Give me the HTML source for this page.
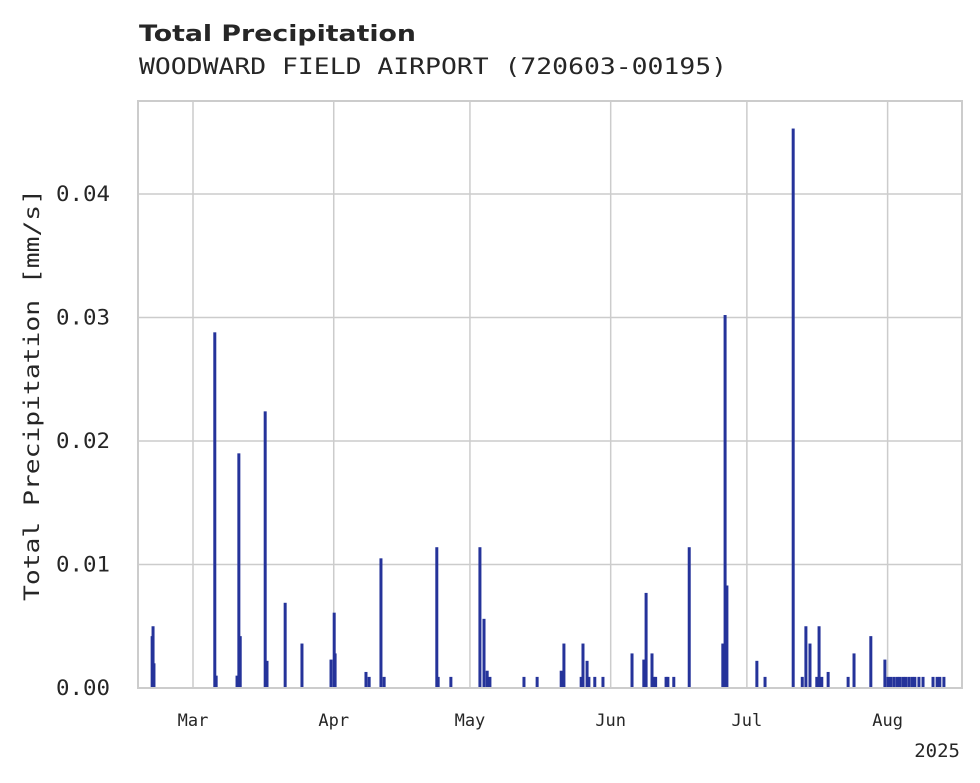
<!DOCTYPE html>
<html><head><meta charset="utf-8"><style>
body{margin:0;background:#fff}
svg{display:block}
</style></head><body>
<svg id="chart" width="980" height="783" viewBox="0 0 980 783" xmlns="http://www.w3.org/2000/svg">
<text x="139" y="41" font-family="DejaVu Sans, Liberation Sans, sans-serif" font-weight="bold" font-size="22" fill="#262626" textLength="277" lengthAdjust="spacingAndGlyphs">Total Precipitation</text>
<text x="139" y="74" font-family="DejaVu Sans Mono, Liberation Mono, monospace" font-size="22" fill="#262626" textLength="588" lengthAdjust="spacingAndGlyphs">WOODWARD FIELD AIRPORT (720603-00195)</text>
<g id="grid"></g>
<g id="bars"></g>
<rect x="138" y="101" width="824" height="587" fill="none" stroke="#cccccc" stroke-width="2"/>
<g id="axes"></g>
<text transform="translate(39,395) rotate(-90)" text-anchor="middle" font-family="DejaVu Sans Mono, Liberation Mono, monospace" font-size="21" fill="#262626" textLength="412" lengthAdjust="spacingAndGlyphs">Total Precipitation [mm/s]</text>
<text x="960" y="757" text-anchor="end" font-family="DejaVu Sans Mono, Liberation Mono, monospace" font-size="19" fill="#262626">2025</text>
</svg>
<script>
// day offsets from Mar 1, 2025
const days = [-9.0,-8.8,-8.6,4.8,5.1,9.7,10.1,10.4,15.9,16.3,20.3,24.0,30.4,31.1,31.3,38.1,38.8,41.4,42.1,53.7,54.0,56.8,63.2,64.1,64.8,65.4,72.9,75.8,81.1,81.7,85.5,85.9,86.8,87.2,88.5,90.3,96.7,99.3,99.8,101.1,101.5,101.9,104.2,104.6,105.9,109.3,116.7,117.2,117.6,124.2,126.0,132.2,134.2,135.0,135.9,137.4,137.9,138.5,139.9,144.3,145.6,149.3,152.4,153.1,153.7,154.4,155.1,155.7,156.4,157.0,157.7,158.4,159.0,159.9,160.8,163.0,163.9,164.5,165.4];
const values = [0.0042,0.005,0.002,0.0288,0.001,0.001,0.019,0.0042,0.0224,0.0022,0.0069,0.0036,0.0023,0.0061,0.0028,0.0013,0.0009,0.0105,0.0009,0.0114,0.0009,0.0009,0.0114,0.0056,0.0014,0.0009,0.0009,0.0009,0.0014,0.0036,0.0009,0.0036,0.0022,0.0009,0.0009,0.0009,0.0028,0.0023,0.0077,0.0028,0.0009,0.0009,0.0009,0.0009,0.0009,0.0114,0.0036,0.0302,0.0083,0.0022,0.0009,0.0453,0.0009,0.005,0.0036,0.0009,0.005,0.0009,0.0013,0.0009,0.0028,0.0042,0.0023,0.0009,0.0009,0.0009,0.0009,0.0009,0.0009,0.0009,0.0009,0.0009,0.0009,0.0009,0.0009,0.0009,0.0009,0.0009,0.0009];
const yTicks = [0,0.01,0.02,0.03,0.04];
const yTickLabels = ["0.00","0.01","0.02","0.03","0.04"];
const monthDays = [0,31,61,92,122,153];
const monthLabels = ["Mar","Apr","May","Jun","Jul","Aug"];

const NS="http://www.w3.org/2000/svg";
const x = d => 193 + d*4.54;
const y = v => 688 - v*12350;
const grid=document.getElementById('grid'), bars=document.getElementById('bars'), axes=document.getElementById('axes');
function mk(tag,attrs,parent){const e=document.createElementNS(NS,tag);for(const k in attrs)e.setAttribute(k,attrs[k]);parent.appendChild(e);return e;}
yTicks.forEach((t,i)=>{
  const l=mk('line',{x1:138,x2:962,y1:y(t),y2:y(t),stroke:'#cccccc','stroke-width':1.5},grid);
  
  
  const tx=mk('text',{x:56,y:y(t)+7,'font-family':'DejaVu Sans Mono, Liberation Mono, monospace','font-size':21,fill:'#262626',textLength:54,lengthAdjust:'spacingAndGlyphs'},axes);
  tx.textContent=yTickLabels[i];
  
  
});
monthDays.forEach((d,i)=>{
  const l=mk('line',{x1:x(d),x2:x(d),y1:101,y2:688,stroke:'#cccccc','stroke-width':1.5},grid);
  
  
  const tx=mk('text',{x:x(d),y:726,'text-anchor':'middle','font-family':'DejaVu Sans Mono, Liberation Mono, monospace','font-size':17,fill:'#262626'},axes);
  tx.textContent=monthLabels[i];
  
  
});
days.forEach((d,i)=>{
  const r=mk('rect',{x:x(d)-1.5,y:y(values[i]),width:3,height:688-y(values[i]),fill:'#25339a'},bars);
  
  
});
</script>
</body></html>
